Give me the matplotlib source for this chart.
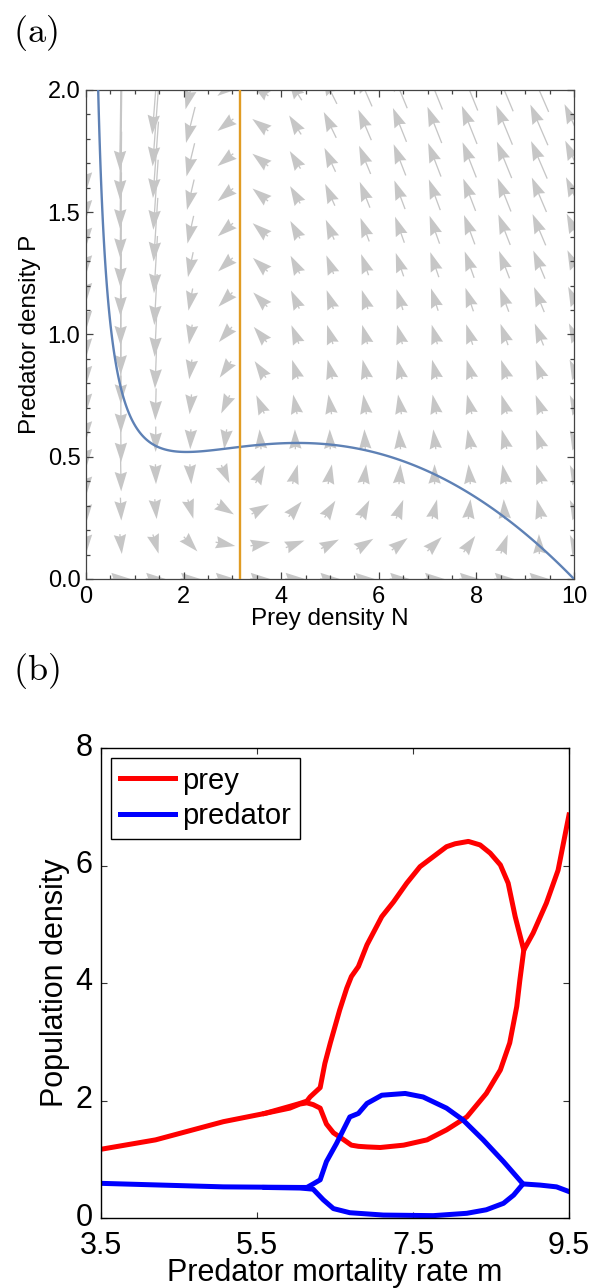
import numpy as np
import matplotlib.pyplot as plt
import matplotlib.transforms as mtransforms
from matplotlib.ticker import MultipleLocator, FormatStrFormatter

plt.rcParams['font.family'] = ['Liberation Sans', 'DejaVu Sans']
plt.rcParams['mathtext.fontset'] = 'cm'

# (a) phase plane, parameters
r = 0.2         # prey growth rate
K = 10.0        # prey carrying capacity (blue curve hits P=0 at N=10)
a = 1.0         # attack rate
h = 1.58        # half saturation (type III response)
m_a = 9.7       # predator mortality used in panel (a)
N_star = 3.16   # position of the vertical predator nullcline
b = m_a * (h**2 + N_star**2) / N_star**2

n_arrows = 15
N_lim = (0, 10)
P_lim = (0, 2)

# (b) bifurcation diagram, max / min of the attractor
prey_hi_m = [3.5, 4.2, 5.07, 5.6, 5.92, 6.05, 6.14, 6.18, 6.31, 6.37, 6.44, 6.56,
             6.65, 6.71, 6.80, 6.91, 7.10, 7.25, 7.42, 7.59, 7.76, 7.93, 8.04,
             8.21, 8.36, 8.49, 8.62, 8.72, 8.81, 8.92, 9.04, 9.21, 9.36, 9.5]
prey_hi = [1.17, 1.33, 1.64, 1.78, 1.90, 1.95, 1.99, 2.06, 2.22, 2.63, 2.98, 3.54,
           3.91, 4.11, 4.28, 4.65, 5.13, 5.38, 5.70, 5.98, 6.15, 6.32, 6.37,
           6.41, 6.35, 6.21, 6.01, 5.70, 5.13, 4.56, 4.85, 5.36, 5.92, 6.86]

prey_lo_m = [5.6, 5.92, 6.05, 6.14, 6.22, 6.31, 6.39, 6.48, 6.56, 6.71, 6.80, 6.91,
             7.08, 7.38, 7.68, 7.93, 8.19, 8.44, 8.62, 8.74, 8.83, 8.87, 8.92]
prey_lo = [1.78, 1.87, 1.94, 1.96, 1.93, 1.87, 1.60, 1.45, 1.38, 1.24, 1.22, 1.21,
           1.20, 1.24, 1.33, 1.50, 1.72, 2.12, 2.52, 2.98, 3.60, 4.05, 4.56]

pred_hi_m = [3.5, 5.07, 6.05, 6.14, 6.22, 6.31, 6.39, 6.52, 6.69, 6.80, 6.91, 7.10,
             7.40, 7.63, 7.93, 8.14, 8.40, 8.66, 8.91, 9.13, 9.34, 9.5]
pred_hi = [0.59, 0.53, 0.52, 0.52, 0.58, 0.65, 0.96, 1.27, 1.72, 1.78, 1.95, 2.09,
           2.12, 2.06, 1.87, 1.67, 1.33, 0.96, 0.58, 0.56, 0.53, 0.45]

pred_lo_m = [5.6, 6.05, 6.14, 6.22, 6.35, 6.48, 6.69, 7.12, 7.76, 8.19, 8.44, 8.66,
             8.79, 8.91]
pred_lo = [0.52, 0.51, 0.50, 0.49, 0.31, 0.16, 0.09, 0.05, 0.04, 0.08, 0.14, 0.25,
           0.39, 0.58]

fig = plt.figure(figsize=(5.98, 12.88), dpi=100)
W, H = 598.0, 1288.0

# ---------- panel (a)
ax = fig.add_axes([86 / W, 1 - 579 / H, 488 / W, 489 / H])

Ng, Pg = np.meshgrid(np.linspace(*N_lim, n_arrows), np.linspace(*P_lim, n_arrows))
dN = r * Ng * (1 - Ng / K) - a * Ng**2 * Pg / (h**2 + Ng**2)
dP = b * Ng**2 * Pg / (h**2 + Ng**2) - m_a * Pg
mag = np.hypot(dN, dP)
L = np.clip(10.5 * mag, 20, None)
safe = np.where(mag > 0, mag, 1)
U = np.ma.masked_where(mag == 0, dN / safe * L)
V = np.ma.masked_where(mag == 0, dP / safe * L)
ax.quiver(Ng, Pg, U, V, angles='uv', scale_units='dots', scale=1, units='dots',
          width=1.3, headwidth=9.5, headlength=15, headaxislength=13.5,
          pivot='middle', color='#c6c6c6', zorder=1)

Nf, Pf = np.meshgrid(np.linspace(0.01, 10, 800), np.linspace(0, 2, 500))
prey_nc = r * (1 - Nf / K) - a * Nf * Pf / (h**2 + Nf**2)
pred_nc = b * Nf**2 / (h**2 + Nf**2) - m_a
ax.contour(Nf, Pf, prey_nc, levels=[0], colors='#5E81B5', linewidths=1.7, zorder=3)
ax.contour(Nf, Pf, pred_nc, levels=[0], colors='#E19C24', linewidths=1.7, zorder=3)

ax.set_xlim(*N_lim)
ax.set_ylim(*P_lim)
ax.xaxis.set_major_locator(MultipleLocator(2))
ax.xaxis.set_minor_locator(MultipleLocator(0.5))
ax.yaxis.set_major_locator(MultipleLocator(0.5))
ax.yaxis.set_minor_locator(MultipleLocator(0.1))
ax.yaxis.set_major_formatter(FormatStrFormatter('%.1f'))
ax.tick_params(which='both', direction='in', top=True, right=True, color='#444444',
               labelsize=17, width=0.9)
ax.tick_params(which='major', length=5, pad=4)
ax.tick_params(which='minor', length=3)
ax.tick_params(axis='x', pad=5)
for s in ax.spines.values():
    s.set_color('#444444')
    s.set_linewidth(0.9)
ax.set_xlabel('Prey density N', fontsize=17.5, labelpad=0)
ax.set_ylabel('Predator density P', fontsize=17.5, labelpad=5)

fig.text(13 / W, 1 - 33 / H, r'$\mathrm{(a)}$', fontsize=26, va='center', ha='left')

# ---------- panel (b)
ax2 = fig.add_axes([101 / W, 1 - 1218 / H, 468 / W, 470 / H])
ax2.plot(prey_hi_m, prey_hi, color='red', lw=3.6, label='prey', solid_joinstyle='round')
ax2.plot(prey_lo_m, prey_lo, color='red', lw=3.6, solid_joinstyle='round')
ax2.plot(pred_hi_m, pred_hi, color='blue', lw=3.6, label='predator', solid_joinstyle='round')
ax2.plot(pred_lo_m, pred_lo, color='blue', lw=3.6, solid_joinstyle='round')

ax2.set_xlim(3.5, 9.5)
ax2.set_ylim(0, 8)
ax2.set_xticks([3.5, 5.5, 7.5, 9.5])
ax2.set_xticklabels(['3.5', '5.5', '7.5', '9.5'])
ax2.set_yticks([0, 2, 4, 6, 8])
ax2.tick_params(direction='in', top=True, right=True, length=4, width=0.8,
                labelsize=22, color='#333333')
ax2.tick_params(axis='x', pad=9)
ax2.tick_params(axis='y', pad=6)
for s in ax2.spines.values():
    s.set_linewidth(1.0)
ax2.set_xlabel('Predator mortality rate m', fontsize=22, labelpad=-2)
ax2.set_ylabel('Population density', fontsize=22, labelpad=4)

# lift the y tick labels a little so "0" clears "3.5"
lift = mtransforms.ScaledTranslation(0, 4 / 100, fig.dpi_scale_trans)
for lab in ax2.get_yticklabels():
    lab.set_transform(lab.get_transform() + lift)

leg = ax2.legend(loc='upper left', bbox_to_anchor=(0.021, 0.979), borderaxespad=0,
                 fontsize=21, handlelength=1.9, handletextpad=0.25, labelspacing=0.25,
                 borderpad=0.3, fancybox=False, framealpha=1, edgecolor='black')
leg.get_frame().set_linewidth(1.0)

fig.text(13 / W, 1 - 671 / H, r'$\mathrm{(b)}$', fontsize=26, va='center', ha='left')

fig.savefig('out.png', dpi=100)
